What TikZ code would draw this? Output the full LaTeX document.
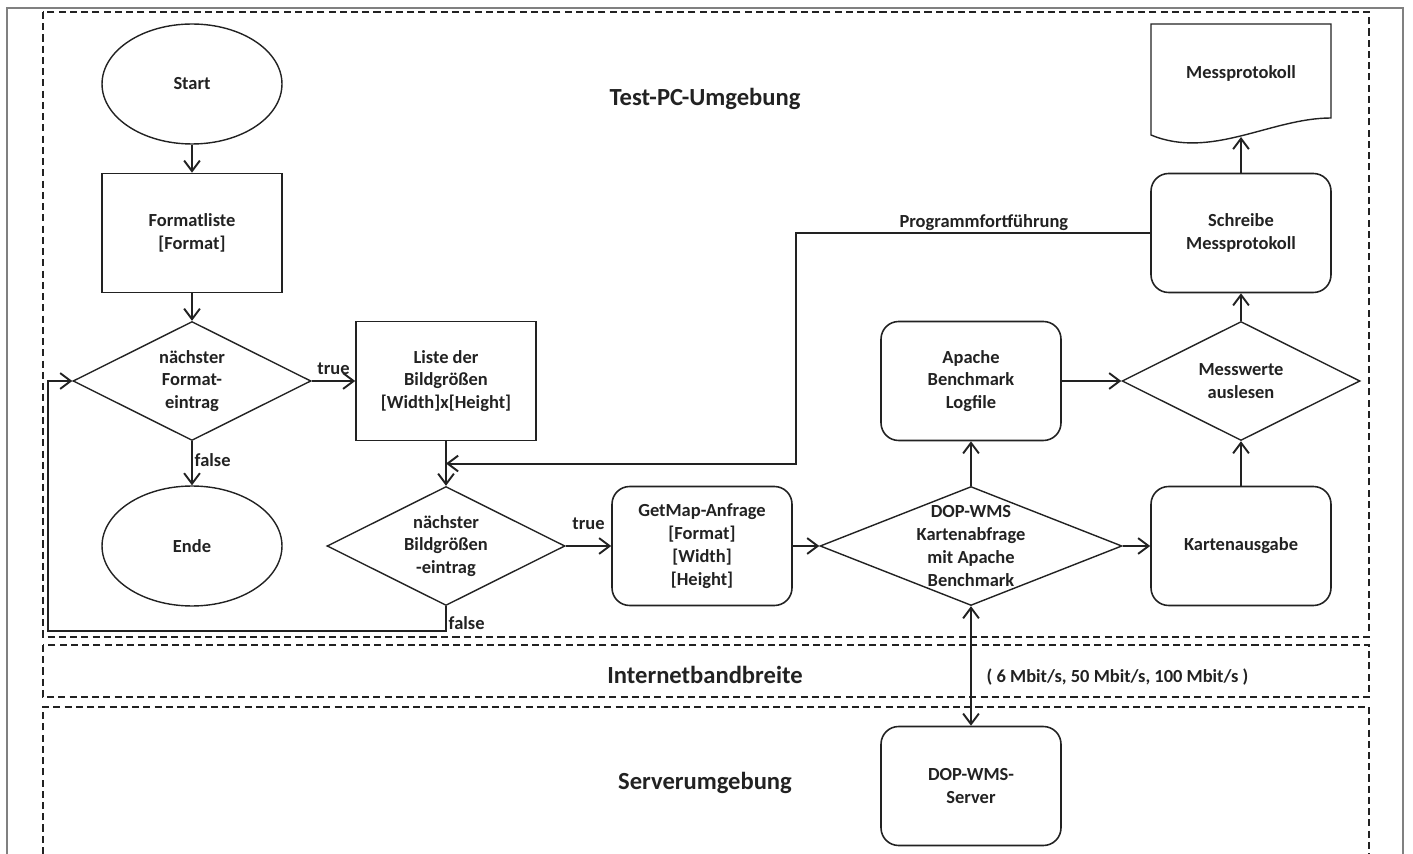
\documentclass[tikz,border=0pt]{standalone}
\usepackage{fontspec}
\setmainfont{Carlito}
\usepackage{tikz}
\usetikzlibrary{positioning,arrows.meta,shapes.geometric,calc}
\definecolor{inkgray}{HTML}{222222}
\definecolor{framegray}{HTML}{808080}

\begin{document}
\begin{tikzpicture}[
  x=0.02cm,y=-0.02cm,
  font=\fontsize{10.5}{13}\selectfont\bfseries,
  box/.style={rectangle,draw=inkgray,line width=0.9pt,minimum width=3.6cm,minimum height=2.38cm,align=center,inner sep=2pt,text=inkgray},
  proc/.style={box,rounded corners=10pt},
  term/.style={ellipse,draw=inkgray,line width=0.8pt,minimum width=3.6cm,minimum height=2.4cm,align=center,inner sep=0pt,text=inkgray},
  dec/.style={diamond,aspect=2,draw=inkgray,line width=0.8pt,minimum width=4.76cm,minimum height=2.38cm,align=center,inner sep=0pt,text=inkgray},
  arr/.style={-{Straight Barb[length=6pt,width=9pt]},line width=1.1pt,inkgray},
  biarr/.style={{Straight Barb[length=6pt,width=9pt]}-{Straight Barb[length=6pt,width=9pt]},line width=1.1pt,inkgray},
  lbl/.style={text=inkgray,inner sep=1pt},
  zone/.style={dash pattern=on 4pt off 2.4pt,line width=0.6pt,inkgray},
  zonetitle/.style={font=\fontsize{14}{16}\selectfont\bfseries,text=inkgray},
]
\useasboundingbox (0,0) rectangle (1413,854);

% Frame and environments
\draw[framegray,line width=0.9pt] (7,854) -- (7,8) -- (1403,8) -- (1403,854);
\draw[zone] (43,12) rectangle (1369,637);
\draw[zone] (43,645) rectangle (1369,697);
\draw[zone] (43,854) -- (43,707) -- (1369,707) -- (1369,854);
\node[zonetitle] (pcenv)  at (705,99)  {Test-PC-Umgebung};
\node[zonetitle] (netenv) at (705,675) {Internetbandbreite};
\node[zonetitle] (srvenv) at (705,783) {Serverumgebung};

% Left column: format loop
\node[term] (start) at (192,84)  {Start};
\node[box]  (fl)    at (192,233) {Formatliste\\{}[Format]};
\node[dec]  (d1)    at (192,381) {nächster\\Format-\\eintrag};
\node[term] (ende)  at (192,546) {Ende};

% Second column: size loop
\node[box] (liste) at (446,381) {Liste der\\Bildgrößen\\{}[Width]x[Height]};
\node[dec] (d2)    at (446,546) {nächster\\Bildgrößen\\-eintrag};

% Request and measurement
\node[proc] (getmap) at (702,546)  {GetMap-Anfrage\\{}[Format]\\{}[Width]\\{}[Height]};
\node[dec,minimum width=6.04cm,
  label={[lbl,align=center]center:{DOP-WMS\\Kartenabfrage\\mit Apache\\Benchmark}}] (dop) at (971,546) {};
\node[proc] (apache) at (971,381)  {Apache\\Benchmark\\Logfile};
\node[proc] (karte)  at (1241,546) {Kartenausgabe};
\node[dec]  (mw)     at (1241,381) {Messwerte\\auslesen};
\node[proc] (sm)     at (1241,233) {Schreibe\\Messprotokoll};
\node[proc] (server) at (971,786)  {DOP-WMS-\\Server};

% Output document
\draw[inkgray,line width=0.8pt] (1151,24) -- (1331,24) -- (1331,118)
  .. controls (1271,118) and (1211,160) .. (1151,135) -- cycle;
\node[lbl] (mp) at (1241,73) {Messprotokoll};
\coordinate (mpfoot) at (1241,137);

% Connectors
\draw[arr] (start) -- (fl);
\draw[arr] (fl) -- (d1);
\draw[arr] (d1) -- node[lbl,right,pos=0.43]{false} (ende);
\draw[arr] (d1) -- node[lbl,above,yshift=2pt]{true} (liste);
\draw[arr] (liste) -- (d2);
\draw[arr] (d2) -- node[lbl,above,yshift=8pt]{true} (getmap);
\draw[arr] (d2.south) -- node[lbl,right,pos=0.68]{false} ++(0,25) -| ($(d1.west)+(-24,0)$) -- (d1.west);

\coordinate (merge) at ($(liste.south)!0.5!(d2.north)$);
\draw[arr] (sm.west) -- node[lbl,above,pos=0.47]{Programmfortführung} ++(-354,0) |- (merge);

\draw[arr] (getmap) -- (dop);
\draw[arr] (dop) -- (apache);
\draw[arr] (dop) -- (karte);
\draw[arr] (apache) -- (mw);
\draw[arr] (karte) -- (mw);
\draw[arr] (mw) -- (sm);
\draw[arr] (sm) -- (mpfoot);
\draw[biarr] (dop) -- node[lbl,right=0.26cm,pos=0.59]{( 6 Mbit/s, 50 Mbit/s, 100 Mbit/s )} (server);
\end{tikzpicture}
\end{document}
